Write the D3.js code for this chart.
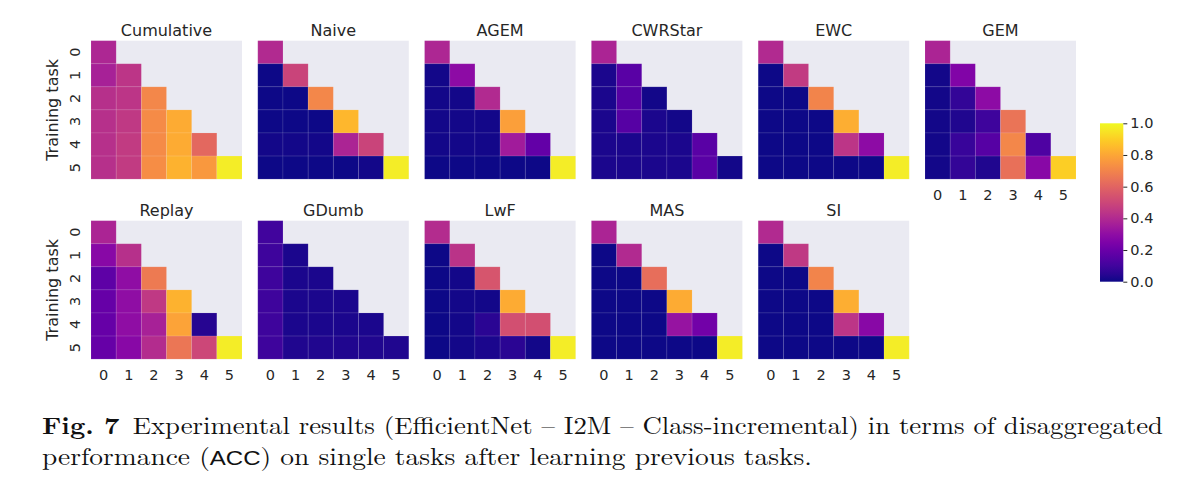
<!DOCTYPE html>
<html>
<head>
<meta charset="utf-8">
<script src="https://cdn.jsdelivr.net/npm/d3@7"></script>
<style>
  body { margin: 0; background: #fff; }
  svg { display: block; }
</style>
</head>
<body>
<div id="container"></div>
<script>
/* DATA: accuracy on task (column) after training task (row) */
const tasks = [0, 1, 2, 3, 4, 5];
const colorTicks = [0.0, 0.2, 0.4, 0.6, 0.8, 1.0];

const cumulative = [[0.39], [0.37, 0.44], [0.42, 0.44, 0.71], [0.42, 0.45, 0.72, 0.81],
  [0.42, 0.46, 0.72, 0.81, 0.61], [0.42, 0.46, 0.73, 0.83, 0.76, 0.97]];
const naive = [[0.40], [0.0, 0.49], [0.0, 0.0, 0.71], [0.0, 0.0, 0.0, 0.84],
  [0.01, 0.01, 0.01, 0.38, 0.49], [0.0, 0.0, 0.0, 0.0, 0.01, 0.97]];
const agem = [[0.39], [0.01, 0.29], [0.01, 0.01, 0.40], [0.01, 0.01, 0.01, 0.78],
  [0.01, 0.01, 0.01, 0.35, 0.18], [0.0, 0.0, 0.0, 0.0, 0.0, 0.97]];
const cwrstar = [[0.38], [0.02, 0.16], [0.02, 0.15, 0.01], [0.02, 0.15, 0.02, 0.01],
  [0.02, 0.02, 0.02, 0.02, 0.16], [0.02, 0.02, 0.02, 0.02, 0.16, 0.01]];
const ewc = [[0.40], [0.0, 0.46], [0.0, 0.0, 0.70], [0.0, 0.0, 0.0, 0.82],
  [0.0, 0.0, 0.0, 0.44, 0.29], [0.0, 0.0, 0.0, 0.0, 0.0, 0.97]];
const gem = [[0.38], [0.01, 0.26], [0.01, 0.07, 0.29], [0.01, 0.03, 0.09, 0.65],
  [0.01, 0.08, 0.15, 0.71, 0.13], [0.01, 0.07, 0.03, 0.64, 0.28, 0.90]];
const replay = [[0.38], [0.28, 0.42], [0.17, 0.30, 0.67], [0.19, 0.30, 0.45, 0.83],
  [0.19, 0.30, 0.37, 0.79, 0.04], [0.19, 0.28, 0.41, 0.66, 0.50, 0.97]];
const gdumb = [[0.10], [0.09, 0.02], [0.09, 0.02, 0.02], [0.09, 0.02, 0.02, 0.02],
  [0.09, 0.02, 0.02, 0.02, 0.02], [0.09, 0.03, 0.03, 0.03, 0.03, 0.03]];
const lwf = [[0.41], [0.0, 0.43], [0.0, 0.01, 0.55], [0.0, 0.01, 0.01, 0.81],
  [0.0, 0.01, 0.05, 0.53, 0.53], [0.0, 0.01, 0.02, 0.05, 0.01, 0.97]];
const mas = [[0.38], [0.0, 0.40], [0.0, 0.0, 0.63], [0.0, 0.0, 0.0, 0.81],
  [0.0, 0.0, 0.0, 0.32, 0.22], [0.0, 0.0, 0.0, 0.0, 0.0, 0.97]];
const si = [[0.40], [0.0, 0.45], [0.0, 0.0, 0.70], [0.0, 0.0, 0.0, 0.82],
  [0.0, 0.0, 0.0, 0.44, 0.28], [0.0, 0.0, 0.0, 0.0, 0.0, 0.97]];

const titles = ["Cumulative", "Naive", "AGEM", "CWRStar", "EWC", "GEM",
  "Replay", "GDumb", "LwF", "MAS", "SI"];
const matrices = [cumulative, naive, agem, cwrstar, ewc, gem,
  replay, gdumb, lwf, mas, si];

/* LAYOUT */
const W = 1200, H = 502;
const panelW = 151, panelH = 138.4;
const panelX0 = 91, panelStep = 166.8;
const rowY = [40.7, 220.7];
const textColor = "#262626";
const bgColor = "#eaeaf2";

const svg = d3.select("#container").append("svg")
  .attr("width", W).attr("height", H)
  .style("font-family", "DejaVu Sans, sans-serif");

const color = d3.scaleSequential(d3.interpolatePlasma).domain([0, 1]);

const xScale = d3.scaleBand().domain(tasks).range([0, panelW]);
const yScale = d3.scaleBand().domain(tasks).range([0, panelH]);

matrices.forEach((m, i) => {
  const row = i < 6 ? 0 : 1;
  const col = i < 6 ? i : i - 6;
  const g = svg.append("g")
    .attr("transform", `translate(${panelX0 + col * panelStep},${rowY[row]})`);

  g.append("rect")
    .attr("width", panelW).attr("height", panelH)
    .attr("fill", bgColor);

  const cells = [];
  m.forEach((r, ri) => r.forEach((v, ci) => cells.push({r: ri, c: ci, v: v})));

  g.selectAll("rect.cell")
    .data(cells)
    .join("rect")
    .attr("class", "cell")
    .attr("x", d => xScale(d.c))
    .attr("y", d => yScale(d.r))
    .attr("width", xScale.bandwidth())
    .attr("height", yScale.bandwidth())
    .attr("fill", d => color(d.v))
    .attr("stroke", "#fff")
    .attr("stroke-opacity", 0.12)
    .attr("stroke-width", 0.8);

  // title
  g.append("text")
    .attr("x", panelW / 2).attr("y", -5)
    .attr("text-anchor", "middle")
    .attr("font-size", 16)
    .attr("fill", textColor)
    .text(titles[i]);

  // x ticks: bottom row, plus GEM which has nothing below it
  if (row === 1 || col === 5) {
    g.append("g")
      .attr("transform", `translate(0,${panelH})`)
      .call(d3.axisBottom(xScale).tickSize(0).tickPadding(0))
      .call(a => a.select(".domain").remove())
      .selectAll("text")
      .attr("y", 21).attr("dy", null)
      .attr("font-size", 14.5)
      .attr("font-family", "DejaVu Sans, sans-serif")
      .attr("fill", textColor);
  }

  // y ticks on first column
  if (col === 0) {
    g.selectAll("text.ytick")
      .data(tasks)
      .join("text")
      .attr("class", "ytick")
      .attr("transform", d => `translate(-11,${yScale(d) + yScale.bandwidth() / 2}) rotate(-90)`)
      .attr("text-anchor", "middle")
      .attr("font-size", 14.5)
      .attr("fill", textColor)
      .text(d => d);

    g.append("text")
      .attr("transform", `translate(-33,${panelH / 2}) rotate(-90)`)
      .attr("text-anchor", "middle")
      .attr("font-size", 16)
      .attr("fill", textColor)
      .text("Training task");
  }
});

/* COLORBAR */
const cbX = 1100, cbW = 23.3, cbTop = 123.3, cbBot = 281.7;
const defs = svg.append("defs");
const grad = defs.append("linearGradient")
  .attr("id", "plasma").attr("x1", 0).attr("y1", 1).attr("x2", 0).attr("y2", 0);
d3.range(0, 1.0001, 0.05).forEach(t => {
  grad.append("stop").attr("offset", t).attr("stop-color", color(t));
});
svg.append("rect")
  .attr("x", cbX).attr("y", cbTop)
  .attr("width", cbW).attr("height", cbBot - cbTop)
  .attr("fill", "url(#plasma)");

const cbScale = d3.scaleLinear().domain([0, 1]).range([cbBot, cbTop]);
svg.append("g")
  .attr("transform", `translate(${cbX + cbW},0)`)
  .call(d3.axisRight(cbScale).tickValues(colorTicks).tickFormat(d3.format(".1f"))
    .tickSize(4).tickPadding(3))
  .call(a => a.select(".domain").remove())
  .call(a => a.selectAll("line").attr("stroke", textColor))
  .selectAll("text")
  .attr("font-size", 14.5)
  .attr("font-family", "DejaVu Sans, sans-serif")
  .attr("fill", textColor);

/* CAPTION */
const cap = svg.append("g")
  .style("font-family", "'Latin Modern Roman', 'CMU Serif', 'Liberation Serif', serif")
  .attr("fill", "#111");

const line1 = cap.append("text")
  .attr("x", 42).attr("y", 434)
  .attr("font-size", 24)
  .attr("textLength", 1121).attr("lengthAdjust", "spacingAndGlyphs");
line1.append("tspan").attr("font-weight", "bold").text("Fig. 7");
line1.append("tspan").text("\u2002Experimental results (EfficientNet \u2013 I2M \u2013 Class-incremental) in terms of disaggregated");

const line2 = cap.append("text")
  .attr("x", 42).attr("y", 465)
  .attr("font-size", 24)
  .attr("textLength", 770).attr("lengthAdjust", "spacingAndGlyphs");
line2.append("tspan").text("performance (");
line2.append("tspan").style("font-family", "'Liberation Sans', sans-serif").attr("font-size", 21).text("ACC");
line2.append("tspan").text(") on single tasks after learning previous tasks.");
</script>
</body>
</html>
